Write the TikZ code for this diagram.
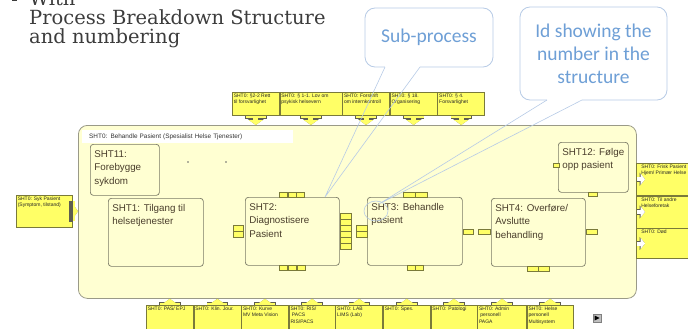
\documentclass[tikz,border=0pt]{standalone}
\usepackage{fontspec}
\setmainfont{DejaVu Serif}
\setsansfont{Liberation Sans}
\newfontfamily\calloutfont{Carlito}
\usetikzlibrary{positioning,arrows.meta}

\definecolor{paleylw}{HTML}{FFFFD2}
\definecolor{brightylw}{HTML}{FFFF66}
\definecolor{frameline}{HTML}{9A9A88}
\definecolor{boxline}{HTML}{7A7A66}
\definecolor{extline}{HTML}{7A7A3A}
\definecolor{arrowline}{HTML}{5E5E50}
\definecolor{labeltext}{HTML}{4A3E2C}
\definecolor{calloutline}{HTML}{B7CBE6}
\definecolor{callouttext}{HTML}{6E9FD6}
\definecolor{titlegray}{HTML}{3C3C3C}

\newcommand{\boxtext}[3]{\parbox[t][#2][t]{#1}{\raggedright #3}}

\tikzset{
  titleline/.style={anchor=base west, inner sep=0pt, text=titlegray,
    font=\rmfamily\fontsize{19.5}{19.5}\selectfont},
  container/.style={draw=frameline, fill=paleylw, rounded corners=9pt,
    line width=0.8pt, inner sep=0pt, anchor=north west},
  header/.style={fill=white, anchor=north west, minimum height=13pt,
    text width=197pt, inner xsep=7pt, inner ysep=1pt, align=left,
    font=\sffamily\fontsize{6.4}{7}\selectfont, text=black!80},
  subproc/.style={draw=boxline, fill=paleylw, rounded corners=3pt,
    line width=0.7pt, anchor=north west, inner xsep=4pt, inner ysep=6pt,
    font=\sffamily\fontsize{9.8}{13.5}\selectfont, text=labeltext},
  ext/.style={draw=extline, fill=brightylw, line width=0.6pt, inner sep=1.5pt,
    font=\sffamily\fontsize{5}{6.5}\selectfont, text=black!85},
  port/.style={draw=extline, fill=brightylw, line width=0.5pt, inner sep=0pt,
    minimum width=8pt, minimum height=5pt},
  flowin/.style={line width=5pt, draw=brightylw,
    {Rectangle[length=2.5pt,width=20pt]}-{Triangle[length=5pt,width=14pt]},
    preaction={draw=arrowline, line width=6.4pt,
      {Rectangle[length=3.2pt,width=21.4pt]}-{Triangle[length=6pt,width=16pt]}}},
  flowout/.style={line width=4pt, draw=white, -{Triangle[length=4.5pt,width=11pt]},
    preaction={draw=arrowline, line width=5.4pt, -{Triangle[length=5.5pt,width=13pt]}}},
  callout/.style={draw=calloutline, fill=white, rounded corners=10pt, line width=0.8pt,
    align=center, text=callouttext, font=\calloutfont\fontsize{19.5}{23}\selectfont},
  tail/.style={draw=calloutline, line width=0.6pt}
}

\begin{document}
\begin{tikzpicture}[x=1pt,y=-1pt]
\useasboundingbox (0,0) rectangle (688,329);
\clip (0,0) rectangle (688,329);

% heading
\fill[titlegray] (12,-3) rectangle (17,1.5);
\node[titleline] (ttl0) at (29,6) {With};
\node[titleline] (ttl1) at (29,25) {Process Breakdown Structure};
\node[titleline] (ttl2) at (29,44) {and numbering};

% main process
\node[container, minimum width=558pt, minimum height=173pt] (sht0) at (78,125) {};
\node[header] (sht0t) at (82,130) {SHT0: Behandle Pasient (Spesialist Helse Tjenester)};

% sub-processes
\node[subproc] (sht11) at (90,144) {\boxtext{61pt}{39pt}{SHT11:\\Forebygge\\sykdom}};
\node[subproc] (sht1) at (108,198) {\boxtext{87pt}{56pt}{SHT1: Tilgang til\\helsetjenester}};
\node[subproc] (sht2) at (245,197) {\boxtext{86pt}{56pt}{SHT2:\\Diagnostisere\\Pasient}};
\node[subproc] (sht3) at (367,197) {\boxtext{87pt}{56pt}{SHT3: Behandle\\pasient}};
\node[subproc] (sht4) at (491,198) {\boxtext{86pt}{56pt}{SHT4: Overføre/\\Avslutte\\behandling}};
\node[subproc] (sht12) at (558,142) {\boxtext{62pt}{38pt}{SHT12: Følge\\opp pasient}};

\fill[black!60] (188,162) circle (0.9);
\fill[black!60] (226,162) circle (0.9);

% ports
\foreach \i/\x in {1/283.5,2/292,3/300.5}
  \node[port] (sht2n\i) at (\x,194.5) {};
\foreach \i/\x in {1/283,2/292,3/301}
  \node[port] (sht2s\i) at (\x,267.5) {};
\foreach \i/\y in {1/228,2/234}
  \node[port, minimum width=10pt, minimum height=6pt] (sht2w\i) at (238,\y) {};
\foreach \i/\y in {1/216,2/222,3/228,4/234,5/240,6/246}
  \node[port, minimum width=11pt, minimum height=6pt] (sht2e\i) at (345.5,\y) {};
\foreach \i/\y in {1/228,2/234}
  \node[port, minimum width=11pt, minimum height=6pt] (sht3w\i) at (361.5,\y) {};
\foreach \i/\x in {1/409,2/421}
  \node[port, minimum width=12pt] (sht3n\i) at (\x,194.5) {};
\foreach \i/\x in {1/411,2/419}
  \node[port] (sht3s\i) at (\x,267.5) {};
\node[port, minimum width=10pt] (sht3e1) at (468,231.5) {};
\node[port, minimum width=12pt] (sht4w1) at (484,231.5) {};
\node[port, minimum width=11pt] (sht4e1) at (591.5,231.5) {};
\foreach \i/\x in {1/533,2/544}
  \node[port, minimum width=11pt] (sht4s\i) at (\x,268.5) {};
\node[port, minimum width=6pt, minimum height=4pt] (sht12w1) at (556,165) {};
\node[port, minimum width=9pt, minimum height=4pt] (sht12s1) at (592.5,194) {};

% laws and rules above
\node[ext, anchor=north west] (law1) at (232,92) {\boxtext{44pt}{20pt}{SHT0: §2-2 Rett\\til forsvarlighet}};
\node[ext, right=0pt of law1] (law2) {\boxtext{59pt}{20pt}{SHT0: § 1-1. Lov om\\psykisk helsevern}};
\node[ext, right=0pt of law2] (law3) {\boxtext{44pt}{20pt}{SHT0: Forskrift\\om internkontroll}};
\node[ext, right=0pt of law3] (law4) {\boxtext{44pt}{20pt}{SHT0: § 18.\\Organisering}};
\node[ext, right=0pt of law4] (law5) {\boxtext{44pt}{20pt}{SHT0: § 4.\\Forsvarlighet}};

% systems below
\node[ext, anchor=north west] (sys1) at (146,305) {\boxtext{44pt}{27pt}{SHT0: PAS/ EPJ}};
\node[ext, right=0pt of sys1] (sys2) {\boxtext{44pt}{27pt}{SHT0: Klin. Jour.}};
\node[ext, right=0pt of sys2] (sys3) {\boxtext{44pt}{27pt}{SHT0: Kurve\\MV Meta Vision}};
\node[ext, right=0pt of sys3] (sys4) {\boxtext{43pt}{27pt}{SHT0: RIS/\\\ PACS\\RIS/PACS}};
\node[ext, right=0pt of sys4] (sys5) {\boxtext{44pt}{27pt}{SHT0: LAB\\LIMS (Lab)}};
\node[ext, right=0pt of sys5] (sys6) {\boxtext{44pt}{27pt}{SHT0: Spes.}};
\node[ext, right=0pt of sys6] (sys7) {\boxtext{43pt}{27pt}{SHT0: Patologi}};
\node[ext, right=0pt of sys7] (sys8) {\boxtext{46pt}{27pt}{SHT0: Admin\\\ personell\\PAGA}};
\node[ext, right=0pt of sys8] (sys9) {\boxtext{43pt}{27pt}{SHT0: Helse\\personell\\Multisystem}};

% in and out
\node[ext, anchor=north west] (sick) at (16,195) {\boxtext{53pt}{29pt}{SHT0: Syk Pasient\\(Symptom, tilstand)}};
\node[ext, anchor=north west, inner xsep=5pt] (out1) at (636,163) {\boxtext{60pt}{29pt}{SHT0: Frisk Pasient\\Hjem/ Primær Helse}};
\node[ext, below=0pt of out1, inner xsep=5pt] (out2) {\boxtext{60pt}{29pt}{SHT0: Til andre Helseforetak}};
\node[ext, below=0pt of out2, inner xsep=5pt] (out3) {\boxtext{60pt}{27pt}{SHT0: Død}};

\foreach \n in {law1,law2,law3,law4,law5}
  \draw[flowin] (\n.south) -- (\n.south |- sht0.north);
\foreach \n in {sys1,sys2,sys3,sys4,sys5,sys6,sys7,sys8,sys9}
  \draw[flowin] (\n.north) -- (\n.north |- sht0.south);
\draw[flowin] (sick.east) -- (sick.east -| sht0.west);
\foreach \n in {out1,out2,out3}
  \draw[flowout] (\n.west -| sht0.east) -- ([xshift=9pt]\n.west);

\node[draw=black!50, fill=black!25, minimum size=8pt, inner sep=0pt] (play) at (597,318) {};
\fill (594.5,315.5) -- (594.5,320.5) -- (599.5,318) -- cycle;

% callouts
\node[callout, minimum width=128pt, minimum height=59pt] (subcall) at (429,37.5) {Sub-process};
\node[callout, minimum width=147pt, minimum height=93pt] (idcall) at (593.5,53.5) {Id showing the\\number in the\\structure};
\coordinate (subtip) at (325,197);
\coordinate (idtip) at (379,204);
\fill[white] ([xshift=-43.6pt,yshift=1.2pt]subcall.south) rectangle ([xshift=-9.4pt,yshift=-0.2pt]subcall.south);
\fill[white] ([xshift=-46.1pt,yshift=1.2pt]idcall.south) rectangle ([xshift=-11.9pt,yshift=-0.2pt]idcall.south);
\draw[tail] ([xshift=-44pt,yshift=0.4pt]subcall.south) -- (subtip) -- ([xshift=-9pt,yshift=0.4pt]subcall.south);
\draw[tail] ([xshift=-46.5pt,yshift=0.4pt]idcall.south) -- (idtip) -- ([xshift=-11.5pt,yshift=0.4pt]idcall.south);
\draw[tail] (376,211) ellipse [x radius=12, y radius=10];

\end{tikzpicture}
\end{document}
